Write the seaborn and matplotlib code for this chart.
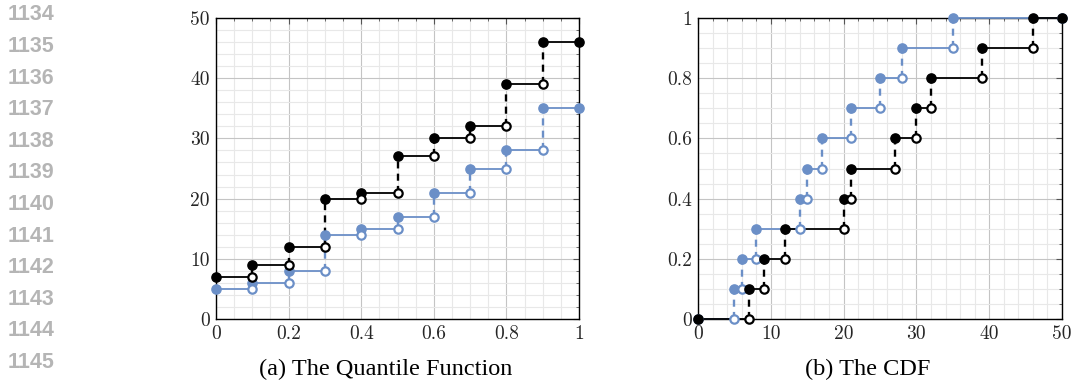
import numpy as np
import pandas as pd
import matplotlib
matplotlib.use("Agg")
import matplotlib.pyplot as plt
from matplotlib.ticker import MultipleLocator, FuncFormatter
import seaborn as sns

# data
probs = [0.0, 0.1, 0.2, 0.3, 0.4, 0.5, 0.6, 0.7, 0.8, 0.9, 1.0]
q_black = [7, 9, 12, 20, 21, 27, 30, 32, 39, 46]
q_blue = [5, 6, 8, 14, 15, 17, 21, 25, 28, 35]
line_numbers = list(range(1134, 1146))
captions = ["(a) The Quantile Function", "(b) The CDF"]

BLUE = "#6b8fc7"
BLACK = "#000000"

sns.set_theme(style="white")
plt.rcParams["font.family"] = ["cmr10", "DejaVu Serif"]
plt.rcParams["axes.formatter.use_mathtext"] = True


def step_parts(xs, ys, x_end):
    # horizontal pieces, dashed jumps, closed and open markers
    hor, ver, closed, opened = [], [], [], []
    n = len(ys)
    for i in range(n):
        x0 = xs[i]
        x1 = xs[i + 1] if i + 1 < n else x_end
        hor.append({"x": x0, "y": ys[i], "seg": i})
        hor.append({"x": x1, "y": ys[i], "seg": i})
        closed.append((x0, ys[i]))
        if i + 1 < n:
            opened.append((x1, ys[i]))
            ver.append({"x": x1, "y": ys[i], "seg": i})
            ver.append({"x": x1, "y": ys[i + 1], "seg": i})
        else:
            closed.append((x1, ys[i]))
    return (pd.DataFrame(hor), pd.DataFrame(ver),
            pd.DataFrame(closed, columns=["x", "y"]),
            pd.DataFrame(opened, columns=["x", "y"]))


def draw_series(ax, parts_list):
    # lines first, then markers (black on top)
    for (hor, ver, _, _), color in parts_list:
        sns.lineplot(data=hor, x="x", y="y", units="seg", estimator=None,
                     sort=False, color=color, lw=1.3, ax=ax, zorder=3)
        if len(ver):
            n_before = len(ax.lines)
            sns.lineplot(data=ver, x="x", y="y", units="seg", estimator=None,
                         sort=False, color=color, lw=1.7, ax=ax, zorder=3)
            for ln in ax.lines[n_before:]:
                ln.set_linestyle((0, (3, 2.2)))
    for (_, _, closed, opened), color in parts_list:
        sns.scatterplot(data=closed, x="x", y="y", color=color, s=44,
                        edgecolor=color, linewidth=1.0, ax=ax, zorder=5)
        sns.scatterplot(data=opened, x="x", y="y", color="white", s=36,
                        edgecolor=color, linewidth=1.6, ax=ax, zorder=5)


fig = plt.figure(figsize=(10.71, 3.81), dpi=100)
ax1 = fig.add_axes([216 / 1071, 1 - 319 / 381, 363 / 1071, 301 / 381])
ax2 = fig.add_axes([698 / 1071, 1 - 319 / 381, 364 / 1071, 301 / 381])

# (a) quantile function
draw_series(ax1, [(step_parts(probs[:-1], q_blue, probs[-1]), BLUE),
                  (step_parts(probs[:-1], q_black, probs[-1]), BLACK)])
ax1.set_xlim(0, 1)
ax1.set_ylim(0, 50)
ax1.xaxis.set_major_locator(MultipleLocator(0.2))
ax1.xaxis.set_minor_locator(MultipleLocator(0.05))
ax1.yaxis.set_major_locator(MultipleLocator(10))
ax1.yaxis.set_minor_locator(MultipleLocator(2))

# (b) CDF built from sorted sample values
xs_blue = [0] + sorted(q_blue)
xs_black = [0] + sorted(q_black)
draw_series(ax2, [(step_parts(xs_blue, probs, 50), BLUE),
                  (step_parts(xs_black, probs, 50), BLACK)])
ax2.set_xlim(0, 50)
ax2.set_ylim(0, 1)
ax2.xaxis.set_major_locator(MultipleLocator(10))
ax2.xaxis.set_minor_locator(MultipleLocator(2))
ax2.yaxis.set_major_locator(MultipleLocator(0.2))
ax2.yaxis.set_minor_locator(MultipleLocator(0.05))

fmt = FuncFormatter(lambda v, p: "%g" % round(v, 6))
for ax in (ax1, ax2):
    ax.set_xlabel("")
    ax.set_ylabel("")
    ax.xaxis.set_major_formatter(fmt)
    ax.yaxis.set_major_formatter(fmt)
    ax.grid(which="major", color="#c4c4c4", lw=0.8, zorder=0)
    ax.grid(which="minor", color="#e8e8e8", lw=0.8, zorder=0)
    ax.set_axisbelow(True)
    ax.tick_params(which="both", direction="in", top=True, right=True,
                   color="#555555", labelsize=14, pad=4.5)
    ax.tick_params(which="major", length=4, width=0.8)
    ax.tick_params(which="minor", length=2.5, width=0.6)
    for s in ax.spines.values():
        s.set_color("black")
        s.set_linewidth(1.0)
    for coll in ax.collections:
        coll.set_clip_on(False)
    for ln in ax.lines:
        ln.set_clip_on(False)

# captions
fig.text(386 / 1071, 1 - 369 / 381, captions[0], ha="center", va="center",
         family="Liberation Serif", fontsize=17.5, color="black")
fig.text(868 / 1071, 1 - 369 / 381, captions[1], ha="center", va="center",
         family="Liberation Serif", fontsize=17.5, color="black")

# margin line numbers
for i, n in enumerate(line_numbers):
    fig.text(8 / 1071, 1 - (15 + i * 31.6) / 381, str(n), ha="left", va="center",
             family="Liberation Sans", fontweight="bold", fontsize=15.5,
             color="#b5b5b5")

fig.savefig("out.png", dpi=100)
